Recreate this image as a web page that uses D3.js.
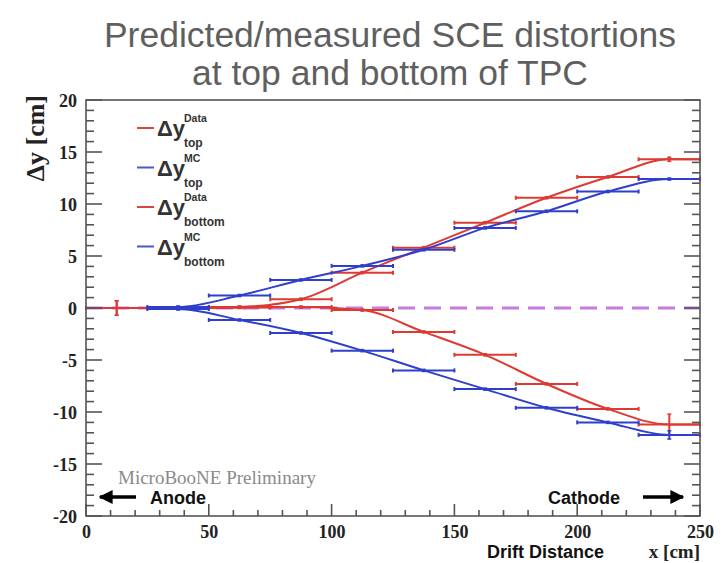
<!DOCTYPE html>
<html><head><meta charset="utf-8">
<script src="https://cdn.jsdelivr.net/npm/d3@7"></script>
<style>body{margin:0;background:#fff}svg{display:block}</style>
</head><body>
<svg id="c" width="722" height="563"></svg>
<script>
// ---- data ----
const binWidth = 25;
const redCenters  = [12.5, 37.5, 62.5, 87.5, 112.5, 137.5, 162.5, 187.5, 212.5, 237.5];
const blueCenters = [37.5, 62.5, 87.5, 112.5, 137.5, 162.5, 187.5, 212.5, 237.5];
const dataTop     = [0, 0, 0.1, 0.85, 3.4, 5.8, 8.2, 10.6, 12.6, 14.3];
const dataTopErr  = [0.7, 0.1, 0.1, 0.1, 0.1, 0.1, 0.1, 0.1, 0.1, 0.2];
const dataBottom  = [0, 0, 0.05, 0.1, -0.2, -2.3, -4.5, -7.3, -9.7, -11.2];
const dataBotErr  = [0.7, 0.1, 0.1, 0.1, 0.1, 0.1, 0.1, 0.1, 0.1, 1.0];
const mcTop       = [0.1, 1.2, 2.7, 4.05, 5.6, 7.7, 9.3, 11.2, 12.4];
const mcTopErr    = [0.1, 0.1, 0.1, 0.1, 0.1, 0.1, 0.1, 0.1, 0.1];
const mcBottom    = [-0.1, -1.15, -2.4, -4.1, -6.0, -7.8, -9.6, -11.0, -12.2];
const mcBotErr    = [0.1, 0.1, 0.1, 0.1, 0.1, 0.1, 0.1, 0.1, 0.4];
const xTicks = [0, 50, 100, 150, 200, 250];
const yTicks = [-20, -15, -10, -5, 0, 5, 10, 15, 20];
const titleLines = ["Predicted/measured SCE distortions", "at top and bottom of TPC"];
const legendEntries = [
  {sup: "Data", sub: "top", color: "#d9473f"},
  {sup: "MC", sub: "top", color: "#4a57cf"},
  {sup: "Data", sub: "bottom", color: "#d9473f"},
  {sup: "MC", sub: "bottom", color: "#4a57cf"}
];

const RED = "#dc3a32", BLUE = "#2f3fcc";
const svg = d3.select("#c");
const L = 86, R = 700, T = 100, B = 516;
const x = d3.scaleLinear().domain([0, 250]).range([L, R]);
const y = d3.scaleLinear().domain([-20, 20]).range([B, T]);

// title
svg.selectAll("text.title").data(titleLines).enter().append("text")
  .attr("x", 390).attr("y", (d, i) => 47 + i * 38)
  .attr("text-anchor", "middle")
  .attr("font-family", "Liberation Sans, Arial, sans-serif")
  .attr("font-size", 35.5).attr("fill", "#5f5f5f").text(d => d);

// zero dashed line
svg.append("line").attr("x1", x(0)).attr("x2", x(250)).attr("y1", y(0)).attr("y2", y(0))
  .attr("stroke", "#c77be0").attr("stroke-width", 3).attr("stroke-dasharray", "17,9");

// series
const series = [
  {c: redCenters, v: dataTop, e: dataTopErr, col: RED},
  {c: redCenters, v: dataBottom, e: dataBotErr, col: RED},
  {c: blueCenters, v: mcTop, e: mcTopErr, col: BLUE},
  {c: blueCenters, v: mcBottom, e: mcBotErr, col: BLUE}
];
const line = d3.line().x(d => x(d[0])).y(d => y(d[1])).curve(d3.curveMonotoneX);
series.forEach(s => {
  const pts = s.c.map((c, i) => [c, s.v[i]]);
  const ext = [[s.c[0] - binWidth / 2, s.v[0]], ...pts, [s.c[s.c.length - 1] + binWidth / 2, s.v[s.v.length - 1]]];
  const g = svg.append("g");
  g.append("path").attr("d", line(ext)).attr("fill", "none").attr("stroke", s.col).attr("stroke-width", 2);
  g.selectAll("line.h").data(pts).enter().append("line")
    .attr("x1", d => x(d[0] - binWidth / 2)).attr("x2", d => x(d[0] + binWidth / 2))
    .attr("y1", d => y(d[1])).attr("y2", d => y(d[1]))
    .attr("stroke", s.col).attr("stroke-width", 2);
  pts.forEach(d => {
    [d[0] - binWidth / 2, d[0] + binWidth / 2].forEach(xe => {
      g.append("line").attr("x1", x(xe)).attr("x2", x(xe)).attr("y1", y(d[1]) - 2).attr("y2", y(d[1]) + 2)
        .attr("stroke", s.col).attr("stroke-width", 2);
    });
  });
  g.selectAll("line.v").data(pts).enter().append("line")
    .attr("x1", d => x(d[0])).attr("x2", d => x(d[0]))
    .attr("y1", (d, i) => y(d[1] + s.e[i])).attr("y2", (d, i) => y(d[1] - s.e[i]))
    .attr("stroke", s.col).attr("stroke-width", 2);
  g.selectAll("line.vc").data(pts).enter().append("line")
    .attr("x1", d => x(d[0]) - 2).attr("x2", d => x(d[0]) + 2)
    .attr("y1", (d, i) => y(d[1] + s.e[i])).attr("y2", (d, i) => y(d[1] + s.e[i]))
    .attr("stroke", s.col).attr("stroke-width", 1.5);
  g.selectAll("line.vc2").data(pts).enter().append("line")
    .attr("x1", d => x(d[0]) - 2).attr("x2", d => x(d[0]) + 2)
    .attr("y1", (d, i) => y(d[1] - s.e[i])).attr("y2", (d, i) => y(d[1] - s.e[i]))
    .attr("stroke", s.col).attr("stroke-width", 1.5);
});

// frame
svg.append("rect").attr("x", L).attr("y", T).attr("width", R - L).attr("height", B - T)
  .attr("fill", "none").attr("stroke", "#555").attr("stroke-width", 1.6);

// axes ticks (ROOT style, inside)
const tickCol = "#555";
const yMinor = d3.range(-20, 21, 1);
const xMinor = d3.range(0, 251, 10);
const gt = svg.append("g").attr("stroke", tickCol).attr("stroke-width", 1.6);
yMinor.forEach(v => {
  const major = v % 5 === 0;
  gt.append("line").attr("x1", L).attr("x2", L + (major ? 16 : 8)).attr("y1", y(v)).attr("y2", y(v));
  gt.append("line").attr("x1", R).attr("x2", R - (major ? 16 : 8)).attr("y1", y(v)).attr("y2", y(v));
});
xMinor.forEach(v => {
  const major = v % 50 === 0;
  gt.append("line").attr("x1", x(v)).attr("x2", x(v)).attr("y1", B).attr("y2", B - (major ? 12 : 6));
});

// tick labels via d3 axes
const yAxis = svg.append("g").attr("transform", `translate(${L - 6},0)`)
  .call(d3.axisLeft(y).tickValues(yTicks).tickSize(0).tickFormat(d => String(d).replace("−", "-")));
const xAxis = svg.append("g").attr("transform", `translate(0,${B + 5})`)
  .call(d3.axisBottom(x).tickValues(xTicks).tickSize(0));
[yAxis, xAxis].forEach(a => {
  a.select(".domain").remove();
  a.selectAll("text").attr("font-family", "Liberation Serif, Times New Roman, serif")
    .attr("font-weight", "bold").attr("font-size", 18).attr("fill", "#222");
});
yAxis.selectAll("text").attr("dy", "0.35em");
xAxis.selectAll("text").attr("dy", "0.75em");

// axis titles
svg.append("text").attr("transform", "translate(44,95) rotate(-90)")
  .attr("text-anchor", "end").attr("font-family", "Liberation Serif, Times New Roman, serif")
  .attr("font-weight", "bold").attr("font-size", 26).attr("fill", "#222").text("Δy [cm]");
svg.append("text").attr("x", 487).attr("y", 558)
  .attr("font-family", "Liberation Sans, Arial, sans-serif").attr("font-weight", "bold")
  .attr("font-size", 18).attr("fill", "#111").text("Drift Distance");
svg.append("text").attr("x", 700).attr("y", 558).attr("text-anchor", "end")
  .attr("font-family", "Liberation Serif, Times New Roman, serif").attr("font-weight", "bold")
  .attr("font-size", 19).attr("fill", "#222").text("x [cm]");

// annotations
svg.append("text").attr("x", 118).attr("y", 484)
  .attr("font-family", "Liberation Serif, Times New Roman, serif")
  .attr("font-size", 19).attr("fill", "#8a8a8a").text("MicroBooNE Preliminary");
svg.append("defs").append("marker").attr("id", "ah").attr("viewBox", "0 0 10 10")
  .attr("refX", 9).attr("refY", 5).attr("markerWidth", 4).attr("markerHeight", 4)
  .attr("orient", "auto-start-reverse").append("path").attr("d", "M0,0 L10,5 L0,10 Z").attr("fill", "#000");
svg.append("line").attr("x1", 136).attr("x2", 100).attr("y1", 497).attr("y2", 497)
  .attr("stroke", "#000").attr("stroke-width", 3.5).attr("marker-end", "url(#ah)");
svg.append("text").attr("x", 150).attr("y", 504)
  .attr("font-family", "Liberation Sans, Arial, sans-serif").attr("font-weight", "bold")
  .attr("font-size", 18).attr("fill", "#111").text("Anode");
svg.append("text").attr("x", 548).attr("y", 504)
  .attr("font-family", "Liberation Sans, Arial, sans-serif").attr("font-weight", "bold")
  .attr("font-size", 18).attr("fill", "#111").text("Cathode");
svg.append("line").attr("x1", 643).attr("x2", 683).attr("y1", 497).attr("y2", 497)
  .attr("stroke", "#000").attr("stroke-width", 3.5).attr("marker-end", "url(#ah)");

// legend
const lg = svg.append("g");
legendEntries.forEach((d, i) => {
  const cy = 128 + i * 39.5;
  lg.append("line").attr("x1", 137).attr("x2", 154).attr("y1", cy).attr("y2", cy)
    .attr("stroke", d.color).attr("stroke-width", 2);
  lg.append("text").attr("x", 157).attr("y", cy + 8)
    .attr("font-family", "Liberation Sans, Arial, sans-serif").attr("font-weight", "bold")
    .attr("font-size", 22).attr("fill", "#333").text("Δy");
  lg.append("text").attr("x", 184).attr("y", cy - 6)
    .attr("font-family", "Liberation Sans, Arial, sans-serif").attr("font-weight", "bold")
    .attr("font-size", 10.5).attr("fill", "#333").text(d.sup);
  lg.append("text").attr("x", 184).attr("y", cy + 19)
    .attr("font-family", "Liberation Sans, Arial, sans-serif").attr("font-weight", "bold")
    .attr("font-size", 12).attr("fill", "#333").text(d.sub);
});
</script>
</body></html>
